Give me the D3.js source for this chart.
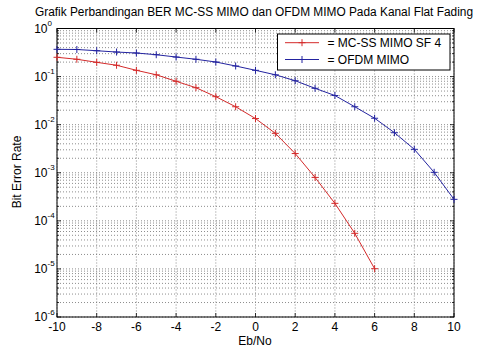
<!DOCTYPE html>
<html><head><meta charset="utf-8">
<script src="https://cdn.jsdelivr.net/npm/d3@7"></script>
<style>body{margin:0;background:#fff}svg{display:block}text{font-family:"Liberation Sans",Arial,sans-serif;fill:#000}</style>
</head><body><svg id="c" width="479" height="356"></svg>
<script>
const ebno = [-10,-9,-8,-7,-6,-5,-4,-3,-2,-1,0,1,2,3,4,5,6,7,8,9,10];
const mcssBer = [0.252,0.229,0.198,0.172,0.135,0.109,0.0798,0.0587,0.0382,0.0236,0.0134,0.0066,0.00251,8.0e-4,2.31e-4,5.5e-5,1.01e-5];
const ofdmBer = [0.369,0.366,0.345,0.324,0.309,0.285,0.255,0.229,0.201,0.166,0.135,0.109,0.082,0.057,0.0404,0.0236,0.0136,0.0068,0.00307,0.00102,2.8e-4];
const xTicks = [-10,-8,-6,-4,-2,0,2,4,6,8,10];
const yExps = [0,-1,-2,-3,-4,-5,-6];
const seriesNames = ["= MC-SS MIMO SF 4","= OFDM MIMO"];
const seriesColors = ["#d42a2a","#2323a0"];
const titleText = "Grafik Perbandingan BER MC-SS MIMO dan OFDM MIMO Pada Kanal Flat Fading";
const xLabel = "Eb/No", yLabel = "Bit Error Rate";

const L=57, R=454, T=28.5, B=317;
const svg = d3.select("#c");
const x = d3.scaleLinear().domain([-10,10]).range([L,R]);
const y = d3.scaleLog().domain([1e-6,1]).range([B,T]);

// grid
const g = svg.append("g");
const minorVals = [];
for (let e=-6;e<0;e++) for (let k=2;k<=9;k++) minorVals.push(k*Math.pow(10,e));
g.selectAll(".ym").data(minorVals).join("line")
 .attr("x1",L).attr("x2",R).attr("y1",d=>y(d)).attr("y2",d=>y(d))
 .attr("stroke","#707070").attr("stroke-width",0.8).attr("stroke-dasharray","1,2");
g.selectAll(".yM").data(yExps.map(e=>Math.pow(10,e))).join("line")
 .attr("x1",L).attr("x2",R).attr("y1",d=>y(d)).attr("y2",d=>y(d))
 .attr("stroke","#707070").attr("stroke-width",0.8).attr("stroke-dasharray","1,2");
g.selectAll(".xM").data(xTicks).join("line")
 .attr("x1",d=>x(d)).attr("x2",d=>x(d)).attr("y1",T).attr("y2",B)
 .attr("stroke","#707070").attr("stroke-width",0.8).attr("stroke-dasharray","1,2");

// ticks (inside, all sides)
const tk = svg.append("g").attr("stroke","#000").attr("stroke-width",0.8);
xTicks.forEach(v=>{
  tk.append("line").attr("x1",x(v)).attr("x2",x(v)).attr("y1",B).attr("y2",B-4);
  tk.append("line").attr("x1",x(v)).attr("x2",x(v)).attr("y1",T).attr("y2",T+4);
});
yExps.forEach(e=>{
  const v=Math.pow(10,e);
  tk.append("line").attr("x1",L).attr("x2",L+4).attr("y1",y(v)).attr("y2",y(v));
  tk.append("line").attr("x1",R).attr("x2",R-4).attr("y1",y(v)).attr("y2",y(v));
});
minorVals.forEach(v=>{
  tk.append("line").attr("x1",L).attr("x2",L+2).attr("y1",y(v)).attr("y2",y(v));
  tk.append("line").attr("x1",R).attr("x2",R-2).attr("y1",y(v)).attr("y2",y(v));
});

// frame
svg.append("rect").attr("x",L).attr("y",T).attr("width",R-L).attr("height",B-T)
 .attr("fill","none").attr("stroke","#000").attr("stroke-width",1);

// tick labels
svg.selectAll(".xl").data(xTicks).join("text")
 .attr("x",d=>x(d)).attr("y",331).attr("text-anchor","middle").attr("font-size",12).text(d=>d);
yExps.forEach(e=>{
  const yy=y(Math.pow(10,e));
  svg.append("text").attr("x",47.5).attr("y",yy+4).attr("text-anchor","end").attr("font-size",12).text("10");
  svg.append("text").attr("x",47.5).attr("y",yy-2.5).attr("text-anchor","start").attr("font-size",8).text(e);
});

// series
const series=[mcssBer,ofdmBer];
series.forEach((vals,i)=>{
  const pts = vals.map((v,j)=>[ebno[j],v]);
  svg.append("path").datum(pts)
   .attr("d",d3.line().x(d=>x(d[0])).y(d=>y(d[1])))
   .attr("fill","none").attr("stroke",seriesColors[i]).attr("stroke-width",1);
  const m = svg.append("g").attr("stroke",seriesColors[i]).attr("stroke-width",1);
  pts.forEach(d=>{
    const cx=x(d[0]), cy=y(d[1]);
    m.append("line").attr("x1",cx-3.5).attr("x2",cx+3.5).attr("y1",cy).attr("y2",cy);
    m.append("line").attr("x1",cx).attr("x2",cx).attr("y1",cy-3.5).attr("y2",cy+3.5);
  });
});

// legend
const lg = svg.append("g");
lg.append("rect").attr("x",277.5).attr("y",34).attr("width",172.5).attr("height",36)
 .attr("fill","#fff").attr("stroke","#000").attr("stroke-width",1);
seriesNames.forEach((n,i)=>{
  const yy = 42.7 + i*16.8;
  lg.append("line").attr("x1",285).attr("x2",319).attr("y1",yy).attr("y2",yy)
    .attr("stroke",seriesColors[i]).attr("stroke-width",1);
  lg.append("line").attr("x1",302-3.5).attr("x2",302+3.5).attr("y1",yy).attr("y2",yy).attr("stroke",seriesColors[i]);
  lg.append("line").attr("x1",302).attr("x2",302).attr("y1",yy-3.5).attr("y2",yy+3.5).attr("stroke",seriesColors[i]);
  lg.append("text").attr("x",327.5).attr("y",yy+4).attr("font-size",12).text(n);
});

// title & labels
svg.append("text").attr("x",254).attr("y",15.5).attr("text-anchor","middle").attr("font-size",12)
 .attr("textLength",438).attr("lengthAdjust","spacingAndGlyphs").text(titleText);
svg.append("text").attr("x",255).attr("y",345).attr("text-anchor","middle").attr("font-size",12).text(xLabel);
svg.append("text").attr("transform","translate(21,172) rotate(-90)").attr("text-anchor","middle").attr("font-size",12).text(yLabel);
</script></body></html>
